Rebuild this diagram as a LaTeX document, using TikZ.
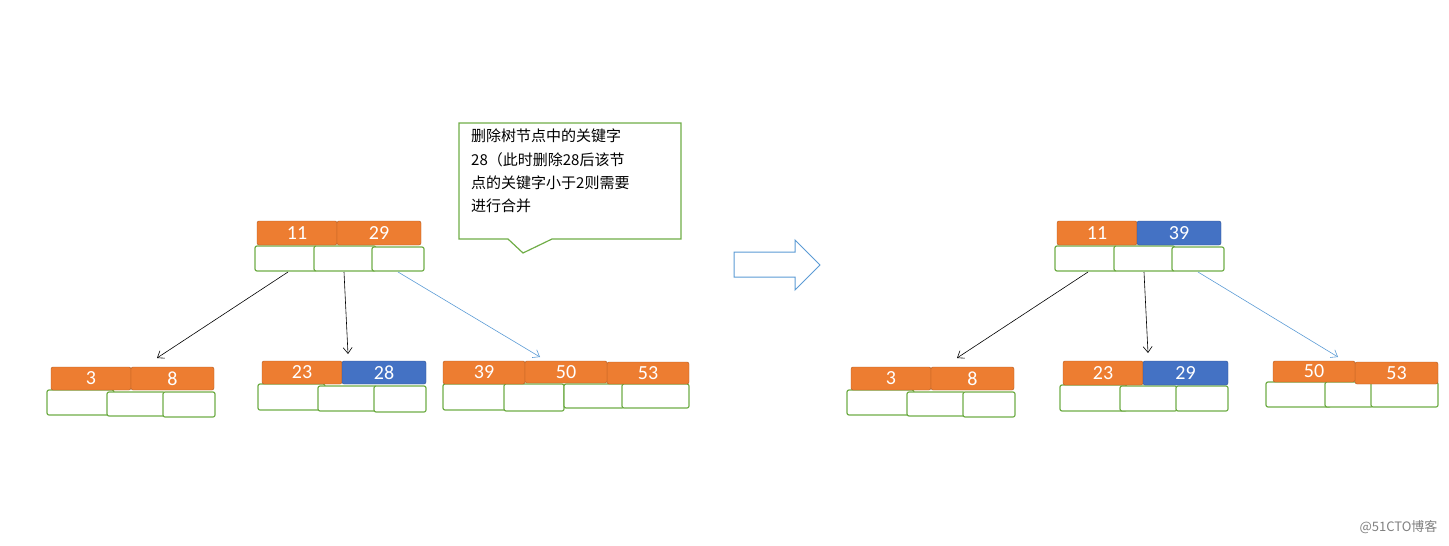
\documentclass[tikz,border=0pt]{standalone}
\usepackage{fontspec}
\setmainfont{Carlito}
\newfontfamily\cjk{Noto Sans CJK SC}
\definecolor{org}{HTML}{ED7D31}\definecolor{orgd}{HTML}{AE5A21}
\definecolor{blu}{HTML}{4472C4}\definecolor{blud}{HTML}{2F528F}
\definecolor{grn}{HTML}{70AD47}\definecolor{lblu}{HTML}{5B9BD5}
\tikzset{
 keyo/.style={fill=org,draw=orgd,rounded corners=2pt,text=white,font=\fontsize{20}{20}\selectfont,inner sep=0pt},
 keyb/.style={keyo,fill=blu,draw=blud},
 ch/.style={fill=white,draw=grn,line width=1.2pt,rounded corners=2pt},
 arr/.style={-{Straight Barb[length=6pt,width=9pt]},line width=0.6pt},
}
\usetikzlibrary{arrows.meta}
\newcommand{\kb}[6]{\node[#1,minimum width={#4-#2},minimum height={#5-#3}] (#6) at ({(#2+#4)/2},{(#3+#5)/2}) {};}
\newcommand{\kt}[7]{\node[#1,minimum width={#4-#2},minimum height={#5-#3}] (#6) at ({(#2+#4)/2},{(#3+#5)/2}) {#7};}
\begin{document}
\begin{tikzpicture}[x=1pt,y=-1pt]
\useasboundingbox (0,0) rectangle (1449,546);
% ---- left root
\kb{ch}{255}{246}{317}{271}{a1}\kb{ch}{314}{246}{376}{271}{a2}\kb{ch}{372}{247}{424}{271}{a3}
\kt{keyo}{257}{221}{337}{245}{ak1}{11}\kt{keyo}{337}{221}{421}{245}{ak2}{29}
% leaf A
\kb{ch}{47}{390}{114}{415}{b1}\kb{ch}{107}{392}{165}{416}{b2}\kb{ch}{163}{392}{215}{417}{b3}
\kt{keyo}{51}{367}{131}{390}{bk1}{3}\kt{keyo}{131}{367}{214}{390}{bk2}{8}
% leaf B
\kb{ch}{258}{384}{325}{410}{c1}\kb{ch}{318}{386}{377}{411}{c2}\kb{ch}{374}{386}{426}{412}{c3}
\kt{keyo}{262}{361}{342}{384}{ck1}{23}\kt{keyb}{342}{361}{426}{384}{ck2}{28}
% leaf C
\kb{ch}{443}{384}{510}{410}{d1}\kb{ch}{504}{384}{564}{411}{d2}\kb{ch}{564}{384}{624}{408}{d3}\kb{ch}{622}{384}{689}{408}{d4}
\kt{keyo}{443}{361}{525}{384}{dk1}{39}\kt{keyo}{607}{362}{689}{384}{dk3}{53}\kt{keyo}{525}{361}{607}{383}{dk2}{50}
\coordinate (pa1) at (288,272);\coordinate (qa1) at (157,358);
\coordinate (pa2) at (344,272);\coordinate (qa2) at (348,354);
\coordinate (pa3) at (398,272);\coordinate (qa3) at (540,357);
\draw[arr] (pa1)--(qa1);\draw[arr] (pa2)--(qa2);\draw[arr,draw=lblu] (pa3)--(qa3);
% callout
\draw[draw=grn,line width=1.2pt,fill=white] (459,123)--(681,123)--(681,239)--(552,239)--(523,253)--(508,239)--(459,239)--cycle;
\node[anchor=north west,align=left,font=\cjk\fontsize{15}{23.3}\selectfont,inner sep=0pt] (ct) at (471,129) {删除树节点中的关键字\\28（此时删除28后该节\\点的关键字小于2则需要\\进行合并};
% big arrow
\draw[draw=lblu,line width=1pt,fill=white] (734,252)--(795,252)--(795,240)--(820,265)--(795,290)--(795,277)--(734,277)--cycle;
% ---- right root
\kb{ch}{1055}{246}{1117}{271}{e1}\kb{ch}{1114}{246}{1175}{271}{e2}\kb{ch}{1172}{247}{1224}{271}{e3}
\kt{keyo}{1057}{221}{1137}{245}{ek1}{11}\kt{keyb}{1137}{221}{1221}{245}{ek2}{39}
\kb{ch}{847}{390}{914}{415}{f1}\kb{ch}{907}{392}{965}{416}{f2}\kb{ch}{963}{392}{1015}{417}{f3}
\kt{keyo}{851}{367}{931}{390}{fk1}{3}\kt{keyo}{931}{367}{1014}{390}{fk2}{8}
\kb{ch}{1060}{385}{1127}{411}{g1}\kb{ch}{1120}{386}{1177}{411}{g2}\kb{ch}{1176}{386}{1228}{411}{g3}
\kt{keyo}{1063}{361}{1143}{385}{gk1}{23}\kt{keyb}{1143}{361}{1228}{385}{gk2}{29}
\kb{ch}{1266}{382}{1331}{407}{h1}\kb{ch}{1325}{382}{1373}{407}{h2}\kb{ch}{1371}{382}{1438}{407}{h3}
\kt{keyo}{1355}{362}{1438}{384}{hk2}{53}\kt{keyo}{1273}{361}{1355}{382}{hk1}{50}
\coordinate (pe1) at (1088,272);\coordinate (qe1) at (957,358);
\coordinate (pe2) at (1144,272);\coordinate (qe2) at (1148,353);
\coordinate (pe3) at (1198,272);\coordinate (qe3) at (1338,357);
\draw[arr] (pe1)--(qe1);\draw[arr] (pe2)--(qe2);\draw[arr,draw=lblu] (pe3)--(qe3);
\node[font=\cjk\fontsize{13}{13}\selectfont,text=gray,anchor=east] (wm) at (1441,527) {@51CTO博客};
\end{tikzpicture}
\end{document}
